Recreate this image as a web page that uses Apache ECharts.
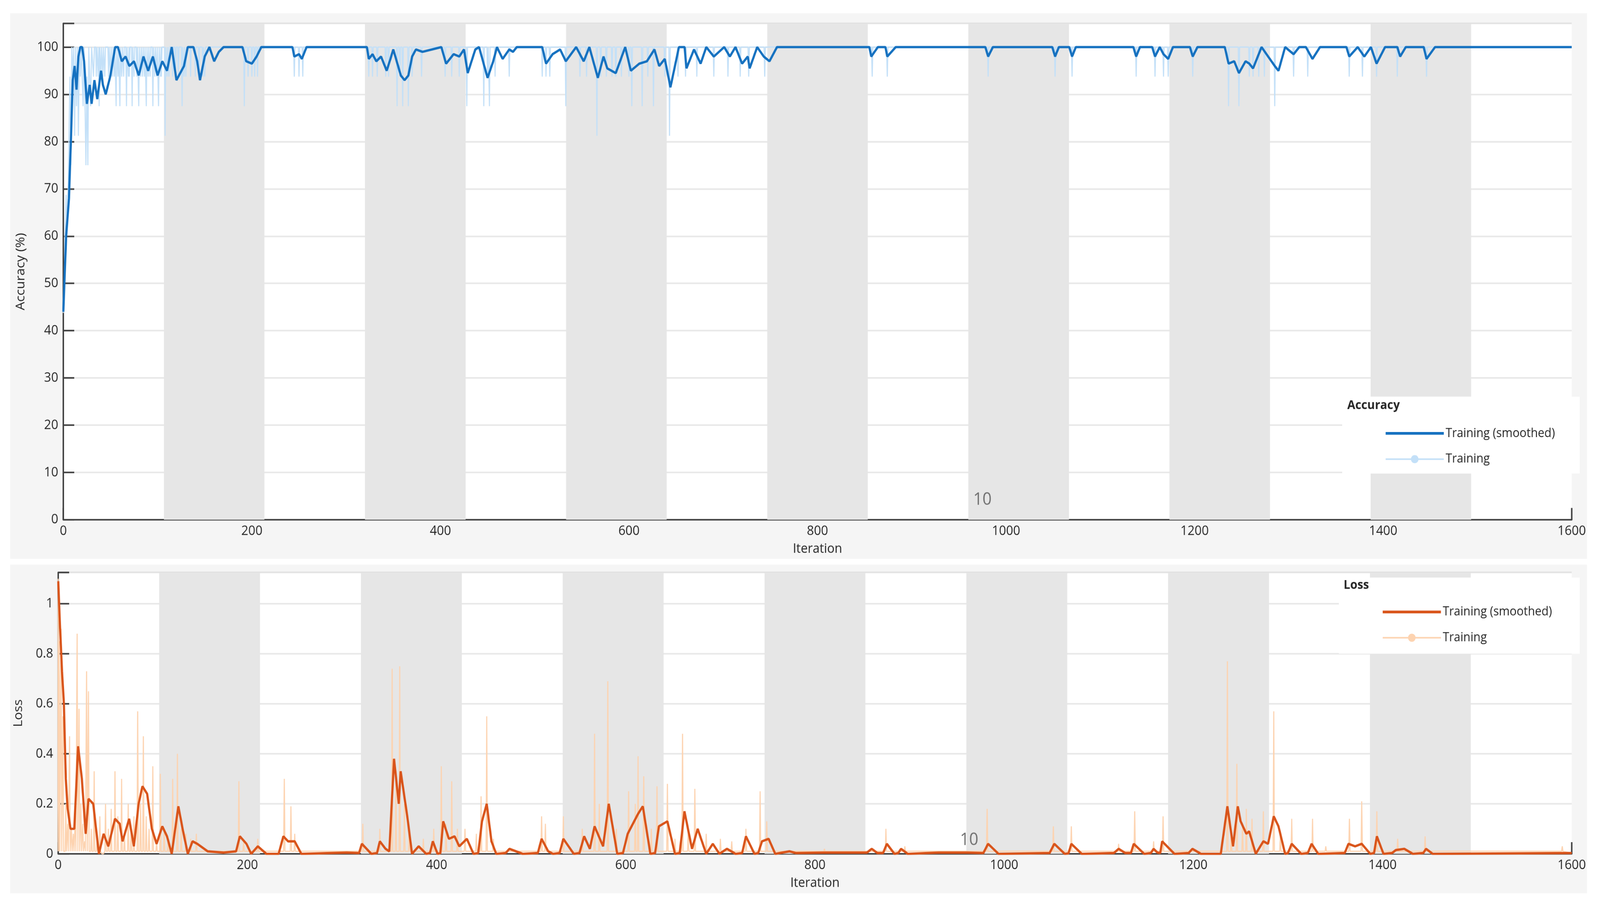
<!DOCTYPE html>
<html><head><meta charset="utf-8">
<script src="https://cdn.jsdelivr.net/npm/echarts@6/dist/echarts.min.js"></script>
<style>html,body{margin:0;padding:0;background:#fff;overflow:hidden}#c{width:4398px;height:2304px;transform-origin:0 0}</style>
</head><body><div id="c"></div>
<script>
// ---------- data ----------
const xTicks = [0,200,400,600,800,1000,1200,1400,1600];
const epochBands = [[106.7,213.3],[320,426.7],[533.3,640],[746.7,853.3],[960,1066.7],[1173.3,1280],[1386.7,1493.3]];
const accSmoothed = [[0,44],[3,60],[6,68],[8,80],[10,93],[12,96],[14,91],[16,98],[18,100],[20,100],[22,97],[25,88],[28,92],[30,88],[33,93],[36,89],[40,95],[42,92],[45,90],[50,94],[55,100],[58,100],[62,97],[66,98],[70,96],[75,97],[80,94],[85,98],[90,95],[95,98],[100,94],[105,97],[110,95],[115,100],[120,93],[128,96],[132,100],[138,100],[142,97],[145,93],[150,98],[155,100],[160,97],[165,99],[170,100],[190,100],[194,97],[200,96.5],[205,98],[210,100],[243,100],[245,98],[250,98.5],[253,97.5],[258,100],[322,100],[324,97.5],[328,98.5],[332,97],[337,98],[343,95],[347,97.5],[350,99.5],[358,94],[362,93],[366,94],[370,98],[374,99.5],[381,99],[401,100],[406,96.5],[414,98.5],[420,98],[425,99.5],[429,94.5],[437,99.5],[441,100],[450,93.5],[456,97],[460,100],[466,97.5],[473,99.5],[477,99],[481,100],[508,100],[512,96.5],[519,98.5],[527,99.5],[533,97],[544,100],[552,97],[558,100],[567,93.5],[573,98],[577,95.5],[586,94.5],[596,100],[602,95],[611,96.5],[619,97],[627,99.5],[632,96],[638,97.5],[644,91.5],[653,100],[659,100],[661,95.5],[669,99.5],[676,96.5],[682,100],[690,98],[701,100],[707,98],[713,100],[720,96.5],[726,98],[728,95.5],[736,100],[743,98],[749,97],[757,100],[855,100],[857,98],[864,100],[872,100],[874,98],[883,100],[978,100],[981,98],[986,100],[1049,100],[1052,98],[1056,100],[1067,100],[1070,98],[1074,100],[1135,100],[1138,98],[1142,100],[1155,100],[1158,98],[1163,100],[1167,98.5],[1172,97.5],[1177,100],[1195,100],[1198,98],[1203,100],[1232,100],[1236,96.5],[1242,97],[1247,94.5],[1254,97],[1258,96.5],[1262,95.5],[1271,100],[1278,98],[1285,96],[1289,95],[1296,100],[1305,98.5],[1311,100],[1318,100],[1325,97.5],[1333,100],[1361,100],[1364,98],[1373,100],[1380,98],[1387,100],[1393,96.5],[1402,100],[1415,100],[1418,98],[1424,100],[1443,100],[1446,97.5],[1455,100],[1600,100]];
const accRawStart = [[0,43.75],[1,50],[2,62.5],[3,68.75],[4,62.5],[5,68.75],[6,81.25],[7,93.75],[8,75],[9,100],[10,93.75],[11,100],[12,81.25],[13,100],[14,87.5],[15,100],[16,81.25],[17,100],[18,93.75],[19,100],[21,87.5],[22,100],[24,75],[25,93.75],[26,75],[27,100],[29,87.5],[30,100],[32,93.75],[33,100]];
const accRawDips = [[35,93.75],[37,93.75],[38,87.5],[40,93.75],[42,93.75],[44,93.75],[48,93.75],[50,93.75],[52,93.75],[54,93.75],[56,87.5],[58,93.75],[60,87.5],[62,93.75],[64,93.75],[67,87.5],[69,93.75],[70,93.75],[73,87.5],[75,93.75],[78,93.75],[80,87.5],[82,93.75],[84,93.75],[86,93.75],[88,87.5],[90,93.75],[92,93.75],[95,87.5],[97,93.75],[99,93.75],[101,87.5],[103,93.75],[104,93.75],[108,81.25],[110,93.75],[112,93.75],[116,93.75],[119,93.75],[122,93.75],[126,87.5],[128,93.75],[130,93.75],[135,93.75],[140,93.75],[144,93.75],[148,93.75],[150,93.75],[192,87.5],[196,93.75],[200,93.75],[203,93.75],[206,93.75],[245,93.75],[250,93.75],[254,93.75],
[324,93.75],[328,93.75],[333,93.75],[342,93.75],[345,93.75],[354,87.5],[357,93.75],[360,87.5],[366,87.5],[370,93.75],[380,93.75],[405,93.75],[412,93.75],[420,93.75],[428,87.5],[446,87.5],[450,93.75],[452,87.5],[458,93.75],[473,93.75],[508,93.75],[512,93.75],[516,93.75],[533,87.5],[548,93.75],[555,93.75],[566,81.25],[570,93.75],[576,93.75],[582,93.75],[586,93.75],[592,93.75],[600,93.75],[603,87.5],[614,87.5],[620,93.75],[626,87.5],[638,93.75],[643,81.25],[652,93.75],[660,93.75],[672,93.75],[690,93.75],[705,93.75],[718,93.75],[727,93.75],[744,93.75],[858,93.75],[874,93.75],
[981,93.75],[1052,93.75],[1070,93.75],[1138,93.75],[1158,93.75],[1167,93.75],[1172,93.75],[1198,93.75],[1236,87.5],[1247,87.5],[1258,93.75],[1262,93.75],[1268,93.75],[1274,93.75],[1285,87.5],[1305,93.75],[1320,93.75],[1364,93.75],[1378,93.75],[1393,93.75],[1415,93.75],[1446,93.75]];
const lossSmoothed = [[0,1.09],[2,0.9],[4,0.73],[6,0.6],[8,0.3],[10,0.18],[13,0.1],[17,0.1],[21,0.43],[25,0.3],[29,0.08],[32,0.22],[37,0.2],[43,0.0],[48,0.08],[53,0.03],[60,0.14],[65,0.12],[68,0.05],[75,0.14],[80,0.03],[85,0.2],[89,0.27],[94,0.24],[99,0.1],[104,0.04],[110,0.11],[115,0.07],[120,0.0],[127,0.19],[132,0.09],[137,0.0],[142,0.05],[147,0.04],[158,0.01],[175,0.005],[188,0.01],[192,0.07],[199,0.04],[204,0.0],[211,0.03],[220,0.0],[233,0.0],[238,0.07],[243,0.05],[250,0.05],[257,0.0],[305,0.005],[318,0.003],[321,0.04],[331,0.0],[337,0.003],[340,0.05],[346,0.02],[350,0.01],[355,0.38],[360,0.2],[362,0.33],[369,0.15],[374,0.0],[381,0.03],[389,0.0],[393,0.003],[396,0.05],[401,0.0],[404,0.003],[407,0.13],[413,0.06],[419,0.07],[424,0.03],[432,0.06],[439,0.0],[444,0.003],[448,0.13],[453,0.2],[458,0.05],[463,0.0],[473,0.003],[477,0.02],[491,0.0],[507,0.003],[511,0.06],[518,0.01],[523,0.0],[530,0.003],[534,0.06],[545,0.0],[551,0.003],[556,0.07],[562,0.02],[567,0.11],[576,0.03],[582,0.2],[591,0.0],[597,0.003],[602,0.08],[613,0.16],[618,0.19],[626,0.0],[631,0.003],[635,0.11],[644,0.13],[652,0.0],[657,0.003],[662,0.17],[670,0.02],[676,0.1],[685,0.0],[692,0.04],[699,0.0],[707,0.02],[716,0.0],[723,0.003],[727,0.07],[736,0.0],[740,0.003],[744,0.05],[751,0.06],[758,0.0],[773,0.01],[780,0.003],[810,0.005],[855,0.005],[860,0.02],[866,0.003],[872,0.003],[876,0.04],[884,0.0],[888,0.003],[891,0.02],[898,0.0],[931,0.005],[961,0.005],[978,0.003],[983,0.04],[994,0.0],[1048,0.003],[1053,0.04],[1064,0.0],[1068,0.002],[1071,0.04],[1082,0.0],[1116,0.003],[1121,0.02],[1128,0.003],[1134,0.003],[1137,0.04],[1148,0.0],[1155,0.003],[1158,0.02],[1162,0.005],[1165,0.003],[1167,0.05],[1180,0.0],[1195,0.003],[1199,0.02],[1208,0.0],[1229,0.0],[1236,0.19],[1242,0.03],[1247,0.19],[1250,0.13],[1256,0.08],[1259,0.09],[1266,0.0],[1274,0.05],[1279,0.04],[1285,0.15],[1290,0.11],[1297,0.0],[1300,0.003],[1304,0.04],[1314,0.0],[1321,0.003],[1325,0.04],[1332,0.0],[1360,0.003],[1364,0.04],[1371,0.03],[1378,0.04],[1387,0.0],[1391,0.003],[1394,0.07],[1401,0.0],[1410,0.003],[1414,0.015],[1423,0.02],[1432,0.0],[1443,0.003],[1446,0.02],[1453,0.0],[1600,0.003]];
const lossRawSpikes = [[0,1.1],[1,0.85],[3,0.9],[5,0.55],[8,0.2],[10,0.12],[12,0.47],[14,0.1],[16,0.08],[18,0.15],[20,0.88],[22,0.58],[24,0.2],[26,0.12],[28,0.05],[30,0.73],[32,0.65],[35,0.1],[38,0.33],[41,0.05],[44,0.15],[47,0.0],[50,0.2],[53,0.1],[56,0.18],[60,0.33],[63,0.15],[67,0.3],[70,0.08],[74,0.2],[77,0.1],[80,0.15],[84,0.57],[87,0.2],[90,0.47],[93,0.15],[96,0.1],[100,0.35],[104,0.05],[108,0.32],[112,0.1],[116,0.05],[121,0.3],[126,0.4],[130,0.1],[135,0.08],[140,0.06],[146,0.08],[191,0.29],[196,0.05],[211,0.06],[239,0.3],[246,0.19],[250,0.08],[322,0.12],[340,0.1],[353,0.74],[357,0.3],[361,0.75],[366,0.2],[371,0.1],[386,0.06],[397,0.1],[405,0.35],[410,0.12],[416,0.29],[422,0.1],[430,0.1],[442,0.08],[447,0.23],[453,0.55],[460,0.06],[511,0.15],[515,0.12],[534,0.15],[554,0.1],[567,0.48],[572,0.2],[581,0.69],[590,0.1],[603,0.25],[610,0.2],[613,0.39],[619,0.31],[627,0.1],[633,0.27],[644,0.28],[652,0.06],[660,0.48],[666,0.1],[673,0.26],[685,0.08],[700,0.06],[712,0.05],[727,0.1],[742,0.25],[749,0.13],[810,0.02],[875,0.1],[895,0.03],[982,0.18],[1052,0.11],[1071,0.11],[1121,0.04],[1138,0.17],[1158,0.05],[1168,0.15],[1236,0.77],[1240,0.1],[1246,0.36],[1252,0.12],[1256,0.18],[1262,0.14],[1274,0.17],[1285,0.57],[1292,0.08],[1304,0.14],[1326,0.14],[1340,0.03],[1365,0.14],[1378,0.21],[1394,0.17],[1416,0.06],[1445,0.07],[1590,0.03]];

// ---------- build raw lines ----------
function dipLine(start, dips, base, end){
  const out = start.slice();
  dips.forEach(d => { out.push([d[0]-0.7, base]); out.push([d[0], d[1]]); out.push([d[0]+0.7, base]); });
  out.push([end, base]);
  return out;
}
const accRaw = dipLine(accRawStart, accRawDips, 100, 1600);
const lossRaw = (function(){
  const out = [];
  lossRawSpikes.forEach(d => { out.push([d[0]-0.7, Math.min(0.01, d[1])]); out.push([d[0], d[1]]); out.push([d[0]+0.7, Math.min(0.01, d[1])]); });
  out.push([1600, 0.003]);
  return out;
})();

// fit fixed 4398x2304 design into the actual viewport
const el = document.getElementById('c');
const sx = window.innerWidth / 4398, sy = window.innerHeight / 2304;
if (Math.abs(sx - 1) > 0.001 || Math.abs(sy - 1) > 0.001) el.style.transform = 'scale(' + sx + ',' + sy + ')';

const bands = epochBands.map(b => [{xAxis: b[0]}, {xAxis: b[1]}]);
const FS = 34, TXT = '#262626';
const chart = echarts.init(el, null, {devicePixelRatio: (window.devicePixelRatio || 1) / Math.min(sx, sy)});
function xAx(idx){
  return {type:'value', gridIndex: idx, min:0, max:1600, interval:200,
    name:'Iteration', nameLocation:'middle', nameGap: 58, nameTextStyle:{fontSize:FS, color:TXT},
    axisLine:{show:true, onZero:false, lineStyle:{color:'#404040', width:4}},
    axisTick:{show:true, inside:true, length:30, lineStyle:{color:'#404040', width:4}},
    axisLabel:{fontSize:FS, color:TXT, margin:12, formatter: v => String(v)},
    splitLine:{show:false}};
}
const splitStyle = {show:true, lineStyle:{color:'rgba(0,0,0,0.09)', width:4}};
chart.setOption({
  animation:false,
  backgroundColor:'#fff',
  graphic:[
    {type:'rect', z:-10, shape:{x:28,y:34,width:4334,height:1396}, style:{fill:'#f5f5f5'}},
    {type:'rect', z:-10, shape:{x:28,y:1445,width:4334,height:841}, style:{fill:'#f5f5f5'}},
    {type:'rect', z:50, shape:{x:3689,y:1015,width:653,height:197}, style:{fill:'#fff'}},
    {type:'text', z:51, left:3703, top:1022, style:{text:'Accuracy', font:'bold 32px "Open Sans"', fill:'#262626'}},
    {type:'rect', z:50, shape:{x:3680,y:1478,width:662,height:195}, style:{fill:'#fff'}},
    {type:'text', z:51, left:3693, top:1482, style:{text:'Loss', font:'bold 32px "Open Sans"', fill:'#262626'}}
  ],
  textStyle:{fontFamily:'Open Sans'},
  grid:[
    {left:174, top:60, width:4146, height:1270, backgroundColor:'#fff', show:true, borderWidth:0},
    {left:160, top:1465, width:4160, height:720, backgroundColor:'#fff', show:true, borderWidth:0}
  ],
  legend:[
    {z:60, orient:'vertical', left:3800, top:1088, itemWidth:160, itemHeight:26, itemGap:34,
     textStyle:{fontSize:32, color:TXT}, selectedMode:false,
     data:[{name:'Training (smoothed)', itemStyle:{opacity:0}, lineStyle:{width:7}}, {name:'Training', lineStyle:{width:4}}]},
    {z:60, orient:'vertical', left:3792, top:1545, itemWidth:160, itemHeight:26, itemGap:34,
     textStyle:{fontSize:32, color:TXT}, selectedMode:false,
     data:[{name:'Training (smoothed) ', itemStyle:{opacity:0}, lineStyle:{width:7}}, {name:'Training ', lineStyle:{width:4}}]}
  ],
  xAxis:[xAx(0), xAx(1)],
  yAxis:[
    {type:'value', gridIndex:0, min:0, max:105, interval:10,
     name:'Accuracy (%)', nameLocation:'middle', nameGap:100, nameTextStyle:{fontSize:FS, color:TXT},
     axisLine:{show:true, lineStyle:{color:'#404040', width:4}},
     axisTick:{show:true, inside:true, length:30, lineStyle:{color:'#404040', width:4}},
     axisLabel:{fontSize:FS, color:TXT, margin:14, formatter: v => (v % 10 === 0 ? String(v) : '')},
     splitLine:splitStyle},
    {type:'value', gridIndex:1, min:0, max:1.125, interval:0.2,
     name:'Loss', nameLocation:'middle', nameGap:92, nameTextStyle:{fontSize:FS, color:TXT},
     axisLine:{show:true, lineStyle:{color:'#404040', width:4}},
     axisTick:{show:true, inside:true, length:30, lineStyle:{color:'#404040', width:4}},
     axisLabel:{fontSize:FS, color:TXT, margin:14, formatter: v => (Math.abs(v*5 - Math.round(v*5))<1e-6 && v<=1.0001 ? String(+v.toFixed(1)) : '')},
     splitLine:splitStyle}
  ],
  series:[
    {name:'Training', type:'line', xAxisIndex:0, yAxisIndex:0, data:accRaw, symbol:'circle', symbolSize:26, showSymbol:false,
     lineStyle:{color:'#c3e0f8', width:3}, itemStyle:{color:'#c3e0f8'}, z:2,
     markArea:{silent:true, itemStyle:{color:'#e6e6e6'}, data:bands}},
    {name:'Training (smoothed)', type:'line', xAxisIndex:0, yAxisIndex:0, data:accSmoothed, symbol:'circle', showSymbol:false,
     lineStyle:{color:'#1571c0', width:6}, itemStyle:{color:'#1571c0'}, z:3,
     markPoint:{symbol:'circle', symbolSize:0, silent:true, data:[{coord:[975,4.2], label:{show:true, formatter:'10', fontSize:44, color:'#707070'}}]}},
    {name:'Training ', type:'line', xAxisIndex:1, yAxisIndex:1, data:lossRaw, symbol:'circle', symbolSize:26, showSymbol:false,
     lineStyle:{color:'#fdd3b0', width:3}, itemStyle:{color:'#fdd3b0'}, z:2,
     markArea:{silent:true, itemStyle:{color:'#e6e6e6'}, data:bands}},
    {name:'Training (smoothed) ', type:'line', xAxisIndex:1, yAxisIndex:1, data:lossSmoothed, symbol:'circle', showSymbol:false,
     lineStyle:{color:'#d9541a', width:6}, itemStyle:{color:'#d9541a'}, z:3,
     markPoint:{symbol:'circle', symbolSize:0, silent:true, data:[{coord:[963,0.055], label:{show:true, formatter:'10', fontSize:44, color:'#707070'}}]}}
  ]
});
</script></body></html>
